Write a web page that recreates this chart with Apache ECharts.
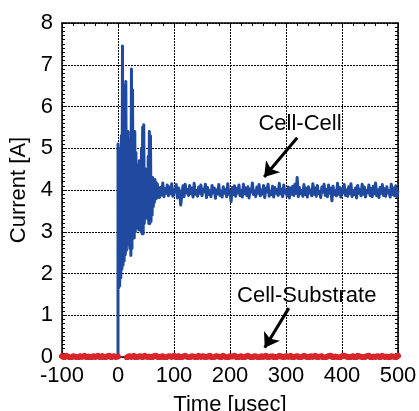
<!DOCTYPE html>
<html>
<head>
<meta charset="utf-8">
<script src="https://cdn.jsdelivr.net/npm/echarts@6/dist/echarts.min.js"></script>
<style>
html,body{margin:0;padding:0;background:#fff;}
#chart{width:419px;height:411px;}
</style>
</head>
<body>
<div id="chart"></div>
<script>
// ---- Data ----
// Tick labels
const xTicks = [-100, 0, 100, 200, 300, 400, 500];
const yTicks = [0, 1, 2, 3, 4, 5, 6, 7, 8];

// Cell-Cell current before the event
const blueBeforeT = [-100, 0];
const blueBeforeI = [0, 0];

// Cell-Cell burst, sampled every 1 usec from t = 0
const blueBurstStart = 0;
const blueBurstStep = 1;
const blueBurstI = [
  5.10, 1.65, 5.00, 1.70, 4.95, 1.90, 5.30, 2.10, 7.45, 2.20,
  6.40, 2.30, 6.50, 2.45, 6.60, 2.55, 5.30, 2.70, 5.40, 2.80,
  5.20, 2.60, 5.00, 2.43, 6.90, 2.60, 6.40, 2.90, 5.40, 2.85,
  5.40, 3.00, 4.90, 3.10, 4.60, 3.20, 4.40, 3.05, 4.70, 3.10,
  4.30, 3.00, 5.00, 2.95, 5.50, 2.95, 5.56, 3.20, 4.30, 3.35,
  4.50, 3.40, 4.40, 3.30, 4.80, 3.20, 5.40, 3.20, 5.30, 3.25,
  4.30, 3.40, 4.30, 3.60, 4.22, 3.70, 4.25, 3.78, 4.18, 3.80,
  4.15
];

// Cell-Cell steady state, sampled every 2 usec from t = 72
const blueSteadyStart = 72;
const blueSteadyStep = 2;
const blueSteadyI = [
  4.14, 3.82, 4.06, 3.88, 4.17, 3.84, 4.03, 3.92, 4.12, 3.86,
  4.07, 3.91, 4.15, 3.85, 4.00, 3.95, 4.13, 3.81, 4.05, 3.97,
  3.64, 3.89, 4.10, 3.84, 4.14, 3.93, 4.01, 3.87, 4.11, 3.91,
  4.04, 3.83, 4.16, 3.90, 3.99, 3.85, 4.07, 3.92, 4.12, 3.86,
  4.02, 3.96, 4.14, 3.82, 4.06, 3.89, 3.98, 3.84, 4.11, 3.93,
  4.05, 3.80, 4.00, 3.91, 4.13, 3.87, 3.97, 3.83, 4.08, 3.92,
  4.01, 3.84, 4.15, 3.90, 3.96, 3.72, 4.06, 3.89, 4.10, 3.85,
  4.04, 3.93, 4.12, 3.86, 3.99, 3.83, 4.14, 3.91, 4.05, 3.87,
  4.08, 3.81, 4.02, 3.95, 4.17, 3.89, 3.98, 3.84, 4.07, 3.92,
  4.13, 3.86, 4.00, 3.90, 4.11, 3.82, 4.04, 3.96, 4.14, 3.85,
  3.97, 3.89, 4.09, 3.83, 4.06, 3.92, 4.01, 3.87, 4.16, 3.91,
  4.02, 3.84, 4.12, 3.93, 3.98, 3.86, 4.07, 3.81, 4.05, 3.90,
  4.09, 3.87, 4.14, 3.92, 4.30, 3.84, 4.06, 3.91, 3.99, 3.85,
  4.13, 3.89, 4.04, 3.83, 4.08, 3.93, 4.00, 3.86, 4.15, 3.90,
  4.05, 3.85, 4.11, 3.91, 3.97, 3.82, 4.07, 3.95, 4.14, 3.87,
  4.01, 3.84, 4.12, 3.92, 4.04, 3.74, 4.09, 3.89, 3.99, 3.86,
  4.16, 3.90, 4.06, 3.83, 4.03, 3.93, 4.13, 3.87, 4.00, 3.85,
  4.08, 3.91, 4.15, 3.84, 3.98, 3.89, 4.05, 3.81, 4.11, 3.92,
  4.01, 3.86, 4.14, 3.90, 4.07, 3.83, 3.99, 3.94, 4.12, 3.87,
  4.04, 3.84, 4.09, 3.91, 4.17, 3.86, 4.00, 3.82, 4.06, 3.92,
  4.13, 3.87, 4.03, 3.85, 4.08, 3.93, 3.98, 3.83, 4.14, 3.89,
  4.05, 3.86, 4.10, 3.84, 3.98
];

// Cell-Substrate current, before the event (every 4 usec from -100)
const redPreStart = -100;
const redPreStep = 4;
const redPreI = [
  0.02, -0.01, 0.03, 0.00, -0.02, 0.02, 0.01, -0.03, 0.02, 0.00,
  0.03, -0.01, 0.01, -0.02, 0.02, 0.00, 0.03, -0.01, 0.02, -0.02,
  0.01, 0.03, -0.01, 0.02, 0.00, 0.01
];
// Cell-Substrate current, after the event (every 4 usec from 16)
const redPostStart = 16;
const redPostStep = 4;
const redPostI = [
  -0.01, 0.02, 0.00, 0.03, -0.02, 0.01, 0.02, -0.01, 0.03, 0.00,
  0.01, -0.02, 0.02, 0.03, -0.01, 0.00, 0.02, -0.03, 0.01, 0.02,
  0.00, 0.03, -0.01, 0.02, -0.02, 0.01, 0.03, 0.00, -0.01, 0.02,
  0.01, -0.02, 0.03, 0.00, 0.02, -0.01, 0.01, 0.03, -0.02, 0.00,
  0.02, 0.01, -0.01, 0.03, 0.00, -0.02, 0.02, 0.01, 0.03, -0.01,
  0.00, 0.02, -0.02, 0.01, 0.03, 0.00, -0.01, 0.02, 0.01, -0.03,
  0.02, 0.00, 0.03, -0.01, 0.01, 0.02, -0.02, 0.00, 0.03, 0.01,
  -0.01, 0.02, 0.00, 0.03, -0.02, 0.01, 0.02, -0.01, 0.00, 0.03,
  0.01, -0.02, 0.02, 0.00, 0.03, -0.01, 0.01, 0.02, -0.03, 0.00,
  0.02, 0.03, -0.01, 0.01, 0.00, -0.02, 0.02, 0.03, 0.01, -0.01,
  0.00, 0.02, -0.02, 0.03, 0.01, 0.00, -0.01, 0.02, 0.03, -0.02,
  0.01, 0.00, 0.02, -0.01, 0.03, 0.00, 0.01, -0.02, 0.02, 0.01,
  -0.01, 0.03
];

// Annotations (data coordinates)
const labelNames = ['Cell-Cell', 'Cell-Substrate'];
const labelPos = [[325, 5.58], [337, 1.47]];
const arrowFrom = [[320, 5.25], [305, 1.17]];
const arrowTo = [[261, 4.31], [262, 0.22]];

// ---- Build series data ----
const blueData = [];
blueBeforeT.forEach((t, i) => blueData.push([t, blueBeforeI[i]]));
blueBurstI.forEach((v, i) => blueData.push([blueBurstStart + i * blueBurstStep, v]));
blueSteadyI.forEach((v, i) => blueData.push([blueSteadyStart + i * blueSteadyStep, v]));

const redData = [];
redPreI.forEach((v, i) => redData.push([redPreStart + i * redPreStep, v]));
redData.push([null, null]);
redPostI.forEach((v, i) => redData.push([redPostStart + i * redPostStep, v]));

const FONT = '"Liberation Sans", Arial, Helvetica, sans-serif';
const FS = 22;

const chart = echarts.init(document.getElementById('chart'), null, {renderer: 'canvas'});

const baseX = {
  type: 'value', min: xTicks[0], max: xTicks[xTicks.length - 1], interval: 100,
  axisLine: {show: true, onZero: false, lineStyle: {color: '#000', width: 1.5}},
  axisTick: {show: true, inside: true, length: 5, lineStyle: {color: '#000', width: 1}},
  minorTick: {show: true, splitNumber: 5, length: 3, lineStyle: {color: '#000', width: 1}},
};
const baseY = {
  type: 'value', min: yTicks[0], max: yTicks[yTicks.length - 1], interval: 1,
  axisLine: {show: true, onZero: false, lineStyle: {color: '#000', width: 1.5}},
  axisTick: {show: true, inside: true, length: 5, lineStyle: {color: '#000', width: 1}},
  minorTick: {show: true, splitNumber: 10, length: 3, lineStyle: {color: '#000', width: 1}},
};

chart.setOption({
  animation: false,
  backgroundColor: '#fff',
  textStyle: {fontFamily: FONT},
  grid: {left: 62, right: 21, top: 23, bottom: 54, containLabel: false, outerBoundsMode: 'none'},
  xAxis: [
    Object.assign({}, baseX, {
      position: 'bottom',
      name: 'Time [\u03bcsec]', nameLocation: 'middle', nameGap: 37,
      nameTextStyle: {fontSize: FS, color: '#000', fontFamily: FONT},
      axisLabel: {show: true, fontSize: FS, color: '#000', fontFamily: FONT, margin: 8},
      splitLine: {show: true, lineStyle: {color: '#000', width: 1, type: [2, 1]}}
    }),
    Object.assign({}, baseX, {
      position: 'top',
      axisLabel: {show: false},
      splitLine: {show: false}
    })
  ],
  yAxis: [
    Object.assign({}, baseY, {
      position: 'left',
      name: 'Current [A]', nameLocation: 'middle', nameGap: 26,
      nameTextStyle: {fontSize: FS, color: '#000', fontFamily: FONT},
      axisLabel: {show: true, fontSize: FS, color: '#000', fontFamily: FONT, margin: 9},
      splitLine: {show: true, lineStyle: {color: '#000', width: 1, type: [2, 1]}}
    }),
    Object.assign({}, baseY, {
      position: 'right',
      axisLabel: {show: false},
      splitLine: {show: false}
    })
  ],
  series: [
    {
      name: 'Cell-Cell', type: 'line', xAxisIndex: 0, yAxisIndex: 0,
      data: blueData, showSymbol: false, symbol: 'none',
      lineStyle: {color: '#2049a0', width: 3, join: 'round'},
      itemStyle: {color: '#2049a0'},
      emphasis: {disabled: true},
      markLine: {
        silent: true, symbol: ['none', 'arrow'], symbolSize: 14,
        label: {show: false},
        lineStyle: {color: '#000', width: 3, type: 'solid'},
        emphasis: {disabled: true},
        data: arrowFrom.map((p, i) => [{coord: p}, {coord: arrowTo[i]}])
      },
      markPoint: {
        silent: true, symbol: 'rect', symbolSize: 1,
        itemStyle: {color: 'rgba(0,0,0,0)'},
        label: {show: true, position: 'inside', formatter: '{b}', fontSize: FS, color: '#000', fontFamily: FONT},
        data: labelNames.map((n, i) => ({name: n, coord: labelPos[i]}))
      }
    },
    {
      name: 'Cell-Substrate', type: 'line', xAxisIndex: 0, yAxisIndex: 0,
      data: redData, showSymbol: false, symbol: 'none', connectNulls: false,
      lineStyle: {color: '#d7262b', width: 6, join: 'round', cap: 'round'},
      itemStyle: {color: '#d7262b'},
      emphasis: {disabled: true}
    }
  ]
});
</script>
</body>
</html>
